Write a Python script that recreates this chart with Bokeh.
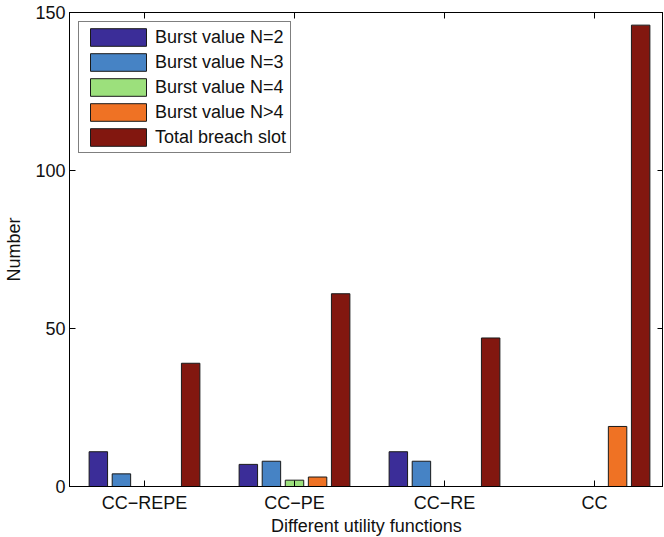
from bokeh.plotting import figure
from bokeh.models import (ColumnDataSource, FixedTicker, LinearAxis, Legend,
                          LegendItem, Range1d)
from bokeh.embed import file_html
from bokeh.resources import INLINE

# Data: counts per utility function
categories = ["CC\u2212REPE", "CC\u2212PE", "CC\u2212RE", "CC"]
burst_n2 = [11, 7, 11, 0]
burst_n3 = [4, 8, 8, 0]
burst_n4 = [0, 2, 0, 0]
burst_ngt4 = [0, 3, 0, 19]
total_breach = [39, 61, 47, 146]

series_names = ["Burst value N=2", "Burst value N=3", "Burst value N=4",
                "Burst value N>4", "Total breach slot"]
series_values = [burst_n2, burst_n3, burst_n4, burst_ngt4, total_breach]
series_colors = ["#3b2d98", "#4683c5", "#9ce07c", "#ef7224", "#82170f"]

FONT = "Liberation Sans"
FS = "18px"

p = figure(width=664, height=537, output_backend="svg", toolbar_location=None,
           x_range=Range1d(0.5, 4.46), y_range=Range1d(0, 150),
           frame_width=594, frame_height=474,
           min_border_left=69, min_border_right=0, min_border_top=12,
           min_border_bottom=10)
p.grid.visible = False
p.outline_line_color = "black"
p.outline_line_width = 1
p.background_fill_color = "white"
p.border_fill_color = "white"

xs = list(range(1, len(categories) + 1))
group_w = min(0.8, 5 / (5 + 1.5))
step = group_w / 5
bar_w = 0.8 * step

items = []
for i, (name, vals, col) in enumerate(zip(series_names, series_values, series_colors)):
    off = (i - 2) * step
    src = ColumnDataSource(dict(x=[x + off for x in xs], top=vals))
    r = p.vbar(x="x", top="top", bottom=0, width=bar_w, source=src,
               fill_color=col, line_color="#1a1a1a", line_width=1)
    items.append(LegendItem(label=name, renderers=[r]))

# axes styling (ticks pointing inward)
def style_axis(ax):
    ax.axis_line_color = "black"
    ax.major_tick_line_color = "black"
    ax.major_tick_in = 6
    ax.major_tick_out = 0
    ax.minor_tick_line_color = None
    ax.major_label_text_font = FONT
    ax.major_label_text_font_size = FS
    ax.major_label_text_color = "#111111"
    ax.axis_label_text_font = FONT
    ax.axis_label_text_font_size = FS
    ax.axis_label_text_font_style = "normal"
    ax.axis_label_text_color = "#111111"

p.xaxis.ticker = FixedTicker(ticks=xs)
p.xaxis.major_label_overrides = {x: c for x, c in zip(xs, categories)}
p.xaxis.axis_label = "Different utility functions"
p.xaxis.axis_label_standoff = 0
p.xaxis.major_label_standoff = 6
p.yaxis.ticker = FixedTicker(ticks=[0, 50, 100, 150])
p.yaxis.axis_label = "Number"
p.yaxis.axis_label_standoff = 8
p.yaxis.major_label_standoff = 4
style_axis(p.xaxis[0])
style_axis(p.yaxis[0])

# mirrored ticks on top and right
top_ax = LinearAxis(ticker=FixedTicker(ticks=xs))
top_ax.major_label_overrides = {x: "" for x in xs}
style_axis(top_ax)
top_ax.major_label_text_font_size = "0px"
top_ax.major_label_standoff = 0
p.add_layout(top_ax, "above")

right_ax = LinearAxis(ticker=FixedTicker(ticks=[0, 50, 100, 150]))
right_ax.major_label_overrides = {t: "" for t in [0, 50, 100, 150]}
style_axis(right_ax)
right_ax.major_label_text_font_size = "0px"
right_ax.major_label_standoff = 0
p.add_layout(right_ax, "right")

legend = Legend(items=items, location="top_left")
legend.label_text_font = FONT
legend.label_text_font_size = FS
legend.label_text_color = "#111111"
legend.glyph_width = 70
legend.glyph_height = 22
legend.label_height = 22
legend.label_standoff = 2
legend.spacing = 3
legend.padding = 4
legend.margin = 9
legend.border_line_color = "black"
legend.border_line_width = 1
legend.background_fill_alpha = 1
p.add_layout(legend)

open("out.html", "w").write(file_html(p, INLINE))
